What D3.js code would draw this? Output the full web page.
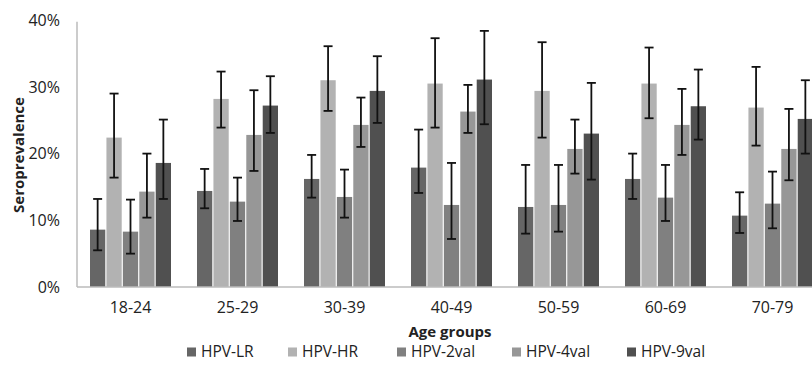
<!DOCTYPE html>
<html>
<head>
<meta charset="utf-8">
<script src="https://cdn.jsdelivr.net/npm/d3@7"></script>
<style>
  body { margin: 0; background: #fff; }
  svg { display: block; font-family: "Open Sans", sans-serif; }
</style>
</head>
<body>
<svg class="chart"></svg>
<script>
// data (percent)
let groups = ["18-24", "25-29", "30-39", "40-49", "50-59", "60-69", "70-79"];
let series = ["HPV-LR", "HPV-HR", "HPV-2val", "HPV-4val", "HPV-9val"];
let yTicks = [0, 10, 20, 30, 40];

let lrVal   = [8.6, 14.4, 16.2, 17.9, 12.0, 16.2, 10.7];
let lrLow   = [5.5, 11.8, 13.4, 14.1, 8.0, 13.2, 8.1];
let lrHigh  = [13.2, 17.7, 19.8, 23.6, 18.3, 20.0, 14.2];

let hrVal   = [22.4, 28.2, 31.0, 30.5, 29.4, 30.5, 26.9];
let hrLow   = [16.4, 23.9, 26.4, 23.9, 22.4, 25.3, 21.2];
let hrHigh  = [29.0, 32.3, 36.1, 37.3, 36.7, 35.9, 33.0];

let v2Val   = [8.3, 12.8, 13.5, 12.3, 12.3, 13.4, 12.5];
let v2Low   = [5.0, 9.9, 10.4, 7.2, 8.3, 9.9, 8.8];
let v2High  = [13.1, 16.4, 17.6, 18.6, 18.3, 18.3, 17.3];

let v4Val   = [14.3, 22.8, 24.3, 26.3, 20.7, 24.3, 20.7];
let v4Low   = [10.4, 17.4, 21.0, 23.1, 17.0, 19.8, 16.0];
let v4High  = [20.0, 29.5, 28.4, 30.3, 25.1, 29.7, 26.7];

let v9Val   = [18.6, 27.2, 29.4, 31.1, 23.0, 27.1, 25.2];
let v9Low   = [13.2, 23.1, 24.6, 24.4, 16.1, 22.1, 20.0];
let v9High  = [25.1, 31.6, 34.6, 38.4, 30.6, 32.6, 31.0];

let colors = ["#666666", "#b2b2b2", "#808080", "#979797", "#505050"];

let table = [
  {val: lrVal, low: lrLow, high: lrHigh},
  {val: hrVal, low: hrLow, high: hrHigh},
  {val: v2Val, low: v2Low, high: v2High},
  {val: v4Val, low: v4Low, high: v4High},
  {val: v9Val, low: v9Low, high: v9High}
];

let rows = [];
groups.forEach(function(g, gi) {
  series.forEach(function(s, si) {
    rows.push({group: g, key: s, si: si,
      value: table[si].val[gi], low: table[si].low[gi], high: table[si].high[gi]});
  });
});

let width = 812, height = 365;
let plotLeft = 77, plotBottom = 287, plotTop = 20.2;

let svg = d3.select(".chart").attr("width", width).attr("height", height);

let x0 = d3.scaleBand().domain(groups).range([plotLeft, 826])
  .paddingInner(0.243).paddingOuter(0.1215);
let x1 = d3.scaleBand().domain(series).range([0, x0.bandwidth()]).paddingInner(0.07);
let y = d3.scaleLinear().domain([0, 40]).range([plotBottom, plotTop]);

// bars
svg.append("g").selectAll("rect")
  .data(rows)
  .enter().append("rect")
  .attr("x", function(d) { return x0(d.group) + x1(d.key); })
  .attr("y", function(d) { return y(d.value); })
  .attr("width", x1.bandwidth())
  .attr("height", function(d) { return plotBottom - y(d.value); })
  .attr("fill", function(d) { return colors[d.si]; });

// error bars
let err = svg.append("g").attr("stroke", "#111").attr("stroke-width", 1.8);
rows.forEach(function(d) {
  let cx = x0(d.group) + x1(d.key) + x1.bandwidth() / 2;
  err.append("line").attr("x1", cx).attr("x2", cx).attr("y1", y(d.low)).attr("y2", y(d.high));
  err.append("line").attr("x1", cx - 4.5).attr("x2", cx + 4.5).attr("y1", y(d.low)).attr("y2", y(d.low));
  err.append("line").attr("x1", cx - 4.5).attr("x2", cx + 4.5).attr("y1", y(d.high)).attr("y2", y(d.high));
});

// axes
let yAxis = svg.append("g")
  .attr("transform", "translate(" + plotLeft + ",0)")
  .call(d3.axisLeft(y).tickValues(yTicks).tickSize(0).tickPadding(17)
    .tickFormat(function(d) { return d + "%"; }));
yAxis.select(".domain").attr("stroke", "#bbbbbb").attr("stroke-width", 1.5)
  .attr("d", "M0," + (plotTop + 1.5) + "V" + plotBottom);
yAxis.selectAll("text").attr("font-size", 16).attr("fill", "#222")
  .attr("font-family", "Open Sans, sans-serif");

let xAxis = svg.append("g")
  .attr("transform", "translate(0," + plotBottom + ")")
  .call(d3.axisBottom(x0).tickSize(0).tickPadding(15));
xAxis.select(".domain").attr("stroke", "#bbbbbb").attr("stroke-width", 1.5)
  .attr("d", "M" + plotLeft + ",0H" + width);
xAxis.selectAll("text").attr("font-size", 16).attr("fill", "#222")
  .attr("font-family", "Open Sans, sans-serif");

// titles
svg.append("text")
  .attr("transform", "translate(24,155) rotate(-90)")
  .attr("text-anchor", "middle")
  .attr("font-size", 15).attr("font-weight", "bold").attr("fill", "#222")
  .text("Seroprevalence");

svg.append("text")
  .attr("x", 450).attr("y", 337)
  .attr("text-anchor", "middle")
  .attr("font-size", 15).attr("font-weight", "bold").attr("fill", "#222")
  .text("Age groups");

// legend
let legendX = [187, 288, 397, 512, 627];
let legend = svg.append("g").selectAll("g")
  .data(series)
  .enter().append("g")
  .attr("transform", function(d, i) { return "translate(" + legendX[i] + ",352)"; });
legend.append("rect").attr("x", 0).attr("y", -4.5).attr("width", 9).attr("height", 9)
  .attr("fill", function(d, i) { return colors[i]; });
legend.append("text").attr("x", 14).attr("dy", "0.35em")
  .attr("font-size", 15.5).attr("fill", "#222")
  .text(function(d) { return d; });
</script>
</body>
</html>
